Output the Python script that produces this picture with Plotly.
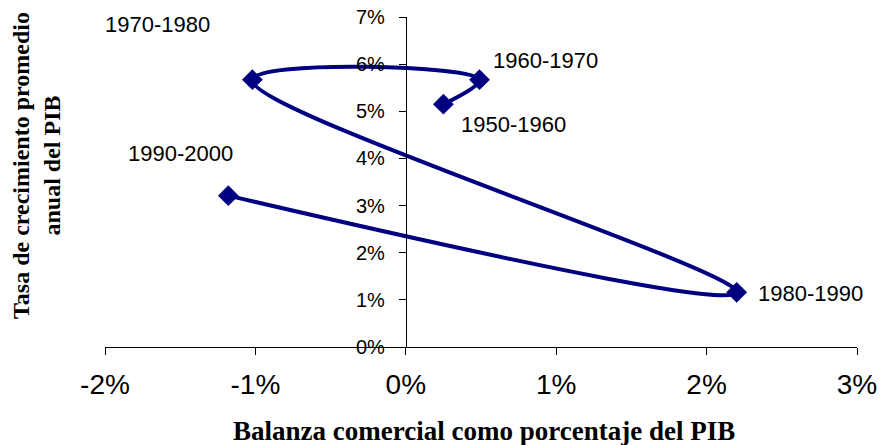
import plotly.graph_objects as go

periods = ["1950-1960", "1960-1970", "1970-1980", "1980-1990", "1990-2000"]
balanza = [0.0025, 0.0049, -0.0102, 0.0220, -0.0118]
crecimiento = [0.0515, 0.0567, 0.0567, 0.0116, 0.0321]

x_ticks = [-0.02, -0.01, 0.0, 0.01, 0.02, 0.03]
x_labels = ["-2%", "-1%", "0%", "1%", "2%", "3%"]
y_ticks = [0, 0.01, 0.02, 0.03, 0.04, 0.05, 0.06, 0.07]
y_labels = ["0%", "1%", "2%", "3%", "4%", "5%", "6%", "7%"]

# label offsets (pixels) relative to each point
label_shift = {
    "1950-1960": (70, -20),
    "1960-1970": (66, 19),
    "1970-1980": (-95, 55),
    "1980-1990": (74, -1),
    "1990-2000": (-48, 42),
}

navy = "#000080"
fig = go.Figure()
fig.add_trace(go.Scatter(
    x=balanza, y=crecimiento, mode="lines+markers",
    line=dict(color=navy, width=4, shape="spline", smoothing=1.1),
    marker=dict(symbol="diamond", size=16, color=navy),
    hoverinfo="skip", showlegend=False,
))

for p, xv, yv in zip(periods, balanza, crecimiento):
    dx, dy = label_shift[p]
    fig.add_annotation(x=xv, y=yv, xref="x", yref="y", text=p, showarrow=False,
                       xshift=dx, yshift=dy,
                       font=dict(family="Liberation Sans, Arial", size=22, color="black"))

fig.add_annotation(x=-0.0918, y=0.5515, xref="paper", yref="paper",
                   xanchor="center", yanchor="middle",
                   text="<b>Tasa de crecimiento promedio<br>anual del PIB</b>",
                   textangle=-90, showarrow=False,
                   font=dict(family="Liberation Serif, Times New Roman", size=24, color="black"))
fig.add_annotation(x=0.504, y=-0.2545, xref="paper", yref="paper",
                   xanchor="center", yanchor="middle",
                   text="<b>Balanza comercial como porcentaje del PIB</b>",
                   showarrow=False,
                   font=dict(family="Liberation Serif, Times New Roman", size=27, color="black"))

fig.update_layout(
    width=884, height=445,
    margin=dict(l=105, r=27, t=17, b=98, autoexpand=False),
    paper_bgcolor="white", plot_bgcolor="white",
    xaxis=dict(range=[-0.02, 0.03], tickvals=x_ticks, ticktext=x_labels,
               showgrid=False, zeroline=False, showline=True, linecolor="black", linewidth=1,
               ticks="outside", ticklen=7, tickcolor="black", automargin=False,
               ticklabeloverflow="allow", ticklabelstandoff=5,
               tickfont=dict(family="Liberation Sans, Arial", size=28, color="black"),
               domain=[0, 1], fixedrange=True),
    yaxis=dict(range=[0, 0.07], tickvals=y_ticks, ticktext=y_labels,
               showgrid=False, zeroline=False, showline=True, linecolor="black", linewidth=1,
               ticks="outside", ticklen=7, tickcolor="black", automargin=False,
               ticklabeloverflow="allow", ticklabelstandoff=10,
               tickfont=dict(family="Liberation Sans, Arial", size=20, color="black"),
               anchor="free", position=0.4, fixedrange=True),
    font=dict(family="Liberation Sans, Arial", color="black"),
)

fig.write_html("out.html", config={"displayModeBar": False},
               post_script="document.body.style.margin='0';document.body.style.padding='0';")
